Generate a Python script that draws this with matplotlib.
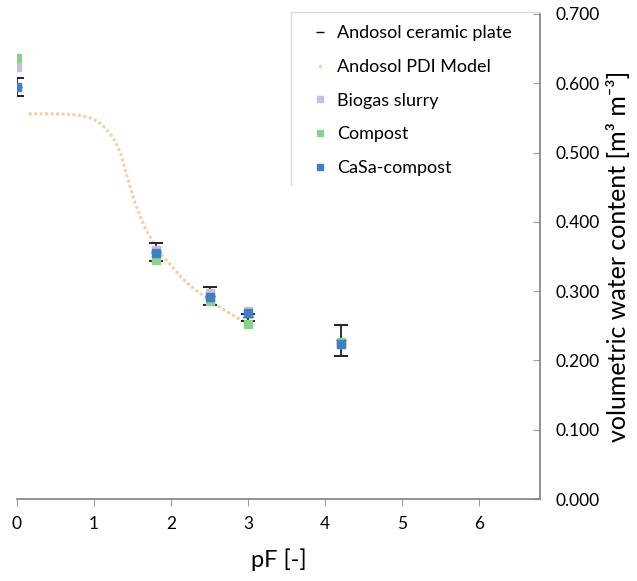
import numpy as np
import matplotlib
matplotlib.use("Agg")
import matplotlib.pyplot as plt
from matplotlib.lines import Line2D

plt.rcParams['font.family'] = ['Lato', 'DejaVu Sans']

# pF steps of the measured points
pf = [0.0, 1.8, 2.5, 3.0, 4.2]

# Andosol ceramic plate (mean and error)
ceramic = [0.594, 0.357, 0.293, 0.262, 0.229]
ceramic_err = [0.013, 0.013, 0.013, 0.005, 0.022]

# treatments
biogas = [0.623, 0.359, 0.298, 0.271, 0.224]
compost = [0.636, 0.345, 0.286, 0.252, 0.226]
casa = [0.594, 0.355, 0.291, 0.268, 0.224]

# Andosol PDI model curve
pdi_pf = [0.15, 0.3, 0.5, 0.7, 0.85, 0.95, 1.05, 1.15, 1.25, 1.34, 1.40, 1.47,
          1.53, 1.60, 1.66, 1.75, 1.86, 2.0, 2.15, 2.3, 2.5, 2.7, 2.9, 3.0]
pdi_wc = [0.556, 0.556, 0.556, 0.555, 0.553, 0.550, 0.545, 0.535, 0.521, 0.501,
          0.477, 0.450, 0.428, 0.408, 0.392, 0.374, 0.355, 0.337, 0.318, 0.303,
          0.287, 0.272, 0.259, 0.253]

labels = ['Andosol ceramic plate', 'Andosol PDI Model', 'Biogas slurry',
          'Compost', 'CaSa-compost']

c_biogas = '#c9bde0'
c_compost = '#8dd08d'
c_casa = '#3f7fc2'
c_pdi = '#f6cfa8'

fig = plt.figure(figsize=(6.37, 5.81), dpi=100)
ax = fig.add_axes([17/637, 82/581, 523/637, 485/581])

ax.errorbar(pf, ceramic, yerr=ceramic_err, fmt='_', color='black', ecolor='#222222',
            elinewidth=1.3, capsize=5, capthick=1.4, markersize=7, zorder=2)
ax.plot(pdi_pf, pdi_wc, linestyle=(0, (1, 0.8)), linewidth=2.2, color=c_pdi, zorder=1)
ax.plot(pf, biogas, 's', color=c_biogas, markersize=6, zorder=3)
ax.plot(pf, compost, 's', color=c_compost, markersize=6, zorder=3)
ax.plot(pf, casa, 's', color=c_casa, markersize=6, zorder=4)

ax.set_xlim(0, 6.79)
ax.set_ylim(0, 0.7)
ax.set_xticks(range(0, 7))
ax.set_yticks(np.arange(0, 0.71, 0.1))
ax.yaxis.set_major_formatter(matplotlib.ticker.FormatStrFormatter('%.3f'))

ax.yaxis.tick_right()
ax.yaxis.set_label_position('right')
for s in ['left', 'top']:
    ax.spines[s].set_visible(False)
for s in ['right', 'bottom']:
    ax.spines[s].set_color('#808080')
    ax.spines[s].set_linewidth(1.2)
ax.tick_params(axis='x', direction='out', length=5, color='#a0a0a0', labelsize=12.5, pad=7)
ax.tick_params(axis='y', direction='in', length=5, color='#a0a0a0', labelsize=12.5, pad=11)
ax.set_xlabel('pF [-]', fontsize=17, labelpad=12)
ax.set_ylabel('volumetric water content [m³ m⁻³]', fontsize=18, labelpad=5)
ax.patch.set_alpha(0)

handles = [Line2D([], [], marker='_', color='black', linestyle='none', markersize=6),
           Line2D([], [], marker='.', color=c_pdi, linestyle='none', markersize=3),
           Line2D([], [], marker='s', color=c_biogas, linestyle='none', markersize=5),
           Line2D([], [], marker='s', color=c_compost, linestyle='none', markersize=5),
           Line2D([], [], marker='s', color=c_casa, linestyle='none', markersize=5)]
fig.legend(handles, labels, loc='upper left', bbox_to_anchor=(306/637, 1 - 18/581),
           frameon=False, fontsize=13, handlelength=0.8, handletextpad=0.5,
           labelspacing=0.98, borderaxespad=0)

# partial legend frame (left and top edges)
fig.add_artist(Line2D([291/637, 291/637], [1 - 185/581, 1 - 12/581], color='#d9d9d9', lw=1))
fig.add_artist(Line2D([291/637, 540/637], [1 - 12/581, 1 - 12/581], color='#d9d9d9', lw=1))

fig.savefig('out.png', dpi=100)
